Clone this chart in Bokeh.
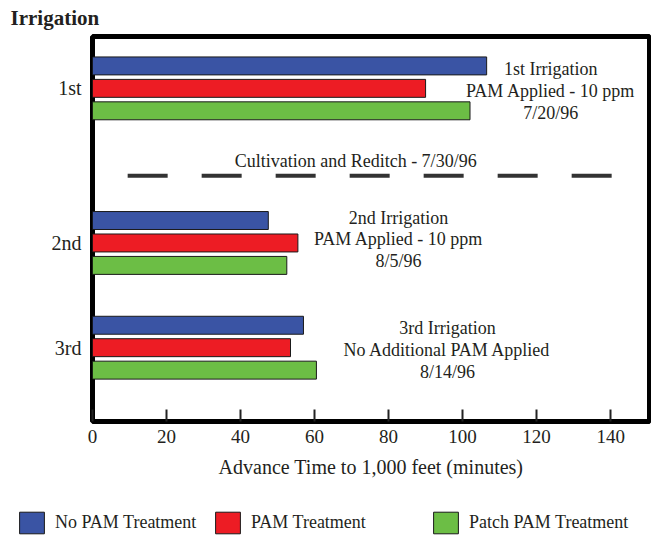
from bokeh.plotting import figure
from bokeh.layouts import column, row
from bokeh.models import Range1d, FixedTicker, Legend, LegendItem, ColumnDataSource
from bokeh.core.properties import value
from bokeh.embed import file_html
from bokeh.resources import INLINE

# ---------------- data ----------------
irrigations = ["1st", "2nd", "3rd"]
no_pam = [106.5, 47.5, 57]
pam = [90, 55.5, 53.5]
patch_pam = [102, 52.5, 60.5]
series_names = ["No PAM Treatment", "PAM Treatment", "Patch PAM Treatment"]
x_ticks = [0, 20, 40, 60, 80, 100, 120, 140]
notes_1st = ["1st Irrigation", "PAM Applied - 10 ppm", "7/20/96"]
notes_2nd = ["2nd Irrigation", "PAM Applied - 10 ppm", "8/5/96"]
notes_3rd = ["3rd Irrigation", "No Additional PAM Applied", "8/14/96"]
event_note = "Cultivation and Reditch - 7/30/96"
title_text = "Irrigation"
x_label = "Advance Time to 1,000 feet (minutes)"

# ---------------- layout / style ----------------
FONT = "Liberation Serif"
TEXT_COLOR = "#231F20"
COLORS = ["#3A54A4", "#ED1C24", "#6CBE45"]
GROUP_Y = [52, 207, 312]
OFFSETS = [-22.5, 0, 22.5]
BAR_H = 18
X_END = 150.5
NOTE_X = [123.8, 82.7, 95.9]
NOTE_Y0 = [32.5, 181.5, 292.5]
LINE_GAP = 22
EVENT_X = (9.5, 141.1)
EVENT_Y = 139.5
EVENT_TEXT_X = 71.1
EVENT_TEXT_Y = 124.5
LEG_X = [16, 212, 430]
LEG_Y = 1

p = figure(width=651, height=507, output_backend="svg", toolbar_location=None,
           x_range=Range1d(0, X_END), y_range=Range1d(386, 0),
           min_border_left=92, min_border_right=2, min_border_top=35, min_border_bottom=86)

p.background_fill_color = "white"
p.border_fill_color = "white"
p.outline_line_color = "black"
p.outline_line_width = 5
p.xgrid.visible = False
p.ygrid.visible = False

# title
p.title.text = title_text
p.title.text_font = FONT
p.title.text_font_style = "bold"
p.title.text_font_size = "21px"
p.title.text_color = TEXT_COLOR
p.title.align = "left"
p.title.offset = -82
p.title.standoff = 10
p.title.vertical_align = "top"

# x axis
xa = p.xaxis[0]
xa.ticker = FixedTicker(ticks=x_ticks)
xa.axis_line_color = None
xa.major_tick_in = 12
xa.major_tick_out = 0
xa.major_tick_line_width = 2
xa.major_tick_line_color = "#222222"
xa.minor_tick_line_color = None
xa.major_label_standoff = 8
xa.major_label_text_font = FONT
xa.major_label_text_font_size = "19px"
xa.major_label_text_color = TEXT_COLOR
xa.axis_label = x_label
xa.axis_label_text_font = FONT
xa.axis_label_text_font_size = "20px"
xa.axis_label_text_font_style = "normal"
xa.axis_label_text_color = TEXT_COLOR
xa.axis_label_standoff = 10

# y axis
ya = p.yaxis[0]
ya.ticker = FixedTicker(ticks=GROUP_Y)
ya.major_label_overrides = {g: lab for g, lab in zip(GROUP_Y, irrigations)}
ya.axis_line_color = None
ya.major_tick_in = 0
ya.major_tick_out = 0
ya.minor_tick_line_color = None
ya.major_label_standoff = 11
ya.major_label_text_font = FONT
ya.major_label_text_font_size = "20px"
ya.major_label_text_color = TEXT_COLOR

# bars
series = [no_pam, pam, patch_pam]
for vals, off, col in zip(series, OFFSETS, COLORS):
    src = ColumnDataSource(dict(y=[g + off for g in GROUP_Y], right=vals))
    p.hbar(y="y", right="right", left=0, height=BAR_H, source=src,
           fill_color=col, line_color="#1A1A1A", line_width=1)

# cultivation separator
p.line(x=list(EVENT_X), y=[EVENT_Y, EVENT_Y], line_color="#333333", line_width=4,
       line_dash="40 34")
p.text(x=[EVENT_TEXT_X], y=[EVENT_TEXT_Y], text=[event_note], text_align="center",
       text_baseline="middle", text_font=value(FONT), text_font_size="18px",
       text_color=TEXT_COLOR)

# notes
for nx, ny, lines in zip(NOTE_X, NOTE_Y0, [notes_1st, notes_2nd, notes_3rd]):
    src = ColumnDataSource(dict(x=[nx] * len(lines),
                                y=[ny + i * LINE_GAP for i in range(len(lines))],
                                text=lines))
    p.text(x="x", y="y", text="text", source=src, text_align="center",
           text_baseline="middle", text_font=value(FONT), text_font_size="18px",
           text_color=TEXT_COLOR)

# legend strip (separate small figure under the chart; its key glyphs lie outside its ranges)
lf = figure(width=651, height=30, output_backend="svg", toolbar_location=None,
            x_range=Range1d(-2000, -1000), y_range=Range1d(-2000, -1000),
            x_axis_location=None, y_axis_location=None, min_border=0,
            min_border_left=0, min_border_right=0, min_border_top=0, min_border_bottom=0)
lf.xgrid.visible = False
lf.ygrid.visible = False
lf.outline_line_color = None
lf.border_fill_color = "white"
lf.background_fill_color = "white"
for name, vals, off, col, lx in zip(series_names, series, OFFSETS, COLORS, LEG_X):
    ksrc = ColumnDataSource(dict(y=[g + off for g in GROUP_Y], right=vals))
    key = lf.hbar(y="y", right="right", left=0, height=BAR_H, source=ksrc,
                  fill_color=col, line_color="#1A1A1A", line_width=1)
    leg = Legend(items=[LegendItem(label=name, renderers=[key])], location=(lx, LEG_Y),
                 orientation="horizontal", glyph_width=31, glyph_height=27,
                 label_height=27, label_standoff=8, padding=0, margin=0, spacing=0,
                 border_line_color=None, background_fill_alpha=0,
                 label_text_font=FONT, label_text_font_size="18px",
                 label_text_color=TEXT_COLOR, label_text_baseline="middle")
    lf.add_layout(leg)

layout = column(p, row(lf), spacing=0)
open("out.html", "w").write(file_html(layout, INLINE))
